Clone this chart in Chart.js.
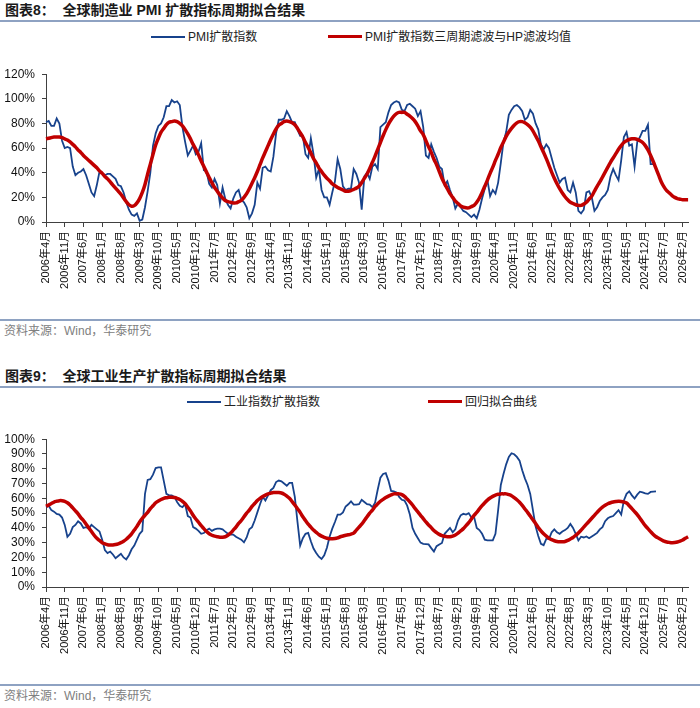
<!DOCTYPE html>
<html>
<head>
<meta charset="utf-8">
<script src="https://cdn.jsdelivr.net/npm/chart.js@4.4.0/dist/chart.umd.min.js"></script>
<style>
body{margin:0;width:700px;height:708px;position:relative;background:#fff;overflow:hidden;
  font-family:"Liberation Sans","Noto Sans CJK SC",sans-serif}
.title{position:absolute;left:5px;font-weight:bold;font-size:14px;line-height:16px;color:#1a1a1a;white-space:nowrap}
.rule{position:absolute;left:0;width:700px;height:2px;background:#8ea2c2}
.src{position:absolute;left:4px;font-size:12px;line-height:14px;color:#808080;white-space:nowrap}
.leg{position:absolute;font-size:12px;line-height:14px;color:#222;white-space:nowrap}
.leg i{display:inline-block;width:34px;vertical-align:middle;margin-right:3px;position:relative;top:-1px}
canvas{position:absolute;left:0}
</style>
</head>
<body>
<div class="title" style="top:2px">图表8：&nbsp;&nbsp;全球制造业 PMI 扩散指标周期拟合结果</div>
<div class="rule" style="top:20px"></div>
<div class="leg" style="left:151px;top:30px"><i style="height:2px;background:#17428c"></i>PMI扩散指数</div>
<div class="leg" style="left:328px;top:30px"><i style="height:3px;background:#c00000"></i>PMI扩散指数三周期滤波与HP滤波均值</div>
<canvas id="chart1" width="700" height="240" style="top:60px"></canvas>
<div class="rule" style="top:319px"></div>
<div class="src" style="top:324px">资料来源：Wind，华泰研究</div>

<div class="title" style="top:368px">图表9：&nbsp;&nbsp;全球工业生产扩散指标周期拟合结果</div>
<div class="rule" style="top:386px"></div>
<div class="leg" style="left:187px;top:395px"><i style="height:2px;background:#17428c"></i>工业指数扩散指数</div>
<div class="leg" style="left:428px;top:395px"><i style="height:3px;background:#c00000"></i>回归拟合曲线</div>
<canvas id="chart2" width="700" height="240" style="top:425px"></canvas>
<div class="rule" style="top:684px"></div>
<div class="src" style="top:689px">资料来源：Wind，华泰研究</div>

<script>
// months 2006-04 .. 2026-04
const months = [];
for (let y = 2006, m = 4; months.length < 241; m++) {
    if (m > 12) { m = 1; y++; }
    months.push(y + "年" + m + "月");
}

const pmiIndex = [
    81,82,78,78,84,80,66,60,61,60, 45,38,40,41,43,38,31,24,21,30,
    41,40,38,39,39,37,35,30,29,24, 16,10,6,5,7,1,2,12,25,40,
    62,72,78,80,85,94,94,99,97,98, 95,77,65,54,58,62,55,57,64,42,
    41,31,28,35,30,15,28,19,14,11, 19,24,26,18,16,12,3,7,14,32,
    27,44,45,42,41,53,72,83,83,84, 90,86,81,81,75,70,70,55,52,68,
    55,36,43,26,20,20,14,24,33,51, 43,29,26,27,27,43,39,32,10,37,
    40,35,45,47,43,77,79,81,89,95, 97,98,97,91,90,95,96,94,92,86,
    90,77,54,52,63,57,52,45,43,30, 33,26,20,11,15,12,9,8,6,4,
    6,3,10,19,27,34,21,26,23,32, 48,65,73,87,91,94,95,93,90,83,
    85,91,88,80,75,63,59,63,60,52, 44,38,32,35,36,26,24,32,24,9,
    7,10,24,25,20,9,12,17,20,22, 26,37,43,38,34,50,69,73,62,63,
    45,65,69,74,74,79,47,47
];

const pmiFit = [
    67.5,68,68.5,69,69,69,68.5,67.5,66.5,65, 63,61,58.5,56.5,54,52,50,48,46,44,
    41.5,39.5,37,35,32.5,30,27.5,25,22.5,19.5, 16.5,14,12.8,13.3,15.5,19,24,30.5,39,47,
    55,62.5,68,73,76,79,81,81.5,82,81.5, 80,78,75,71.5,67.5,63,59,54.5,49.5,45,
    40.5,36,32,28,25,22,19.5,17.5,16.5,16, 15.5,15.5,16.5,17.5,20,23,27,31.5,36,41,
    46.5,52,57,62,67,71.5,75.5,78.5,80,81.5, 82,81.5,80.5,79,76,72.5,69,64.5,60.5,56,
    51.5,48,44,41,38,35.5,33.5,31,29.5,28, 27,26,25,25,25.5,26.5,27.5,29,32,35.5,
    39,43.5,48.5,53.5,59,64.5,70,75,79.5,83, 86,88,89,89,89,87.5,86,84,81.5,78,
    74,71,66,61,56.5,51,46.5,41,35.5,31, 27,23,20,17,15,13,12,11.5,11.5,12.5,
    13.5,16,19.5,24,29,34,39.5,44.5,50,55, 60.5,65,69.5,73,76,78.5,80.5,81.5,81.5,80.5,
    79,77,74,70,66,61,56.5,51.5,46,40.5, 35.5,31,27,23.5,20.5,18,16,15,14,13.5,
    13.5,14.5,16,18.5,21,25,29,32.5,36.5,40.5, 44.5,48.5,52,55.5,59,62,64.5,66,67,67.5,
    67.5,67,66,64.5,62,58.5,54,49,43.5,38, 32.5,28.5,25.5,23.5,21.5,20,19,18.5,18,18,
    18
];

const industryIndex = [
    54,55,52,51,49.5,49,47,42,34,36, 40.5,42,44.5,43,40,40.5,39.5,42,40.5,39,
    37.5,32,25,23,24,22,19.5,21,22.5,20, 18.7,21.5,25.5,28,32,36,38,63,72.5,73,
    76,80.5,81,81,72,63,62,62,61,57.5, 55,54,56,48,47,40.5,39.5,38,36,36.5,
    38.5,39.5,38,39,39.5,39.5,39,37.5,36,35.5, 35.5,34,33,32,30.2,33.5,39,40.5,45,50.5,
    56,61,58.5,62,65.5,67,71,72,71.5,70, 68.5,70.5,70.5,61,44,28,33,36,36.6,31,
    26,23,20.5,19,21.5,26.5,34,39.5,44,49, 49,50.5,54.5,56,58,55.7,55.7,56,59,57.5,
    56,55.7,54,57,66,74,76.5,77,72,65, 64.7,64,61,59,58.5,55,49,40,36,33,
    30,29.2,29,28.8,26.3,24,27.6,28.8,29.8,36, 38,40,37,39,45,48.5,49.5,49,50,47,
    47.5,40,38.5,36,32,31.5,31.5,31.5,36,52, 69,76.5,83,88,90.5,89.8,88,85.5,79,73.5,
    69,63,52,41,34.5,29.2,28.3,32.5,32.5,37, 39,37,36,37.5,38.5,40,42.7,40,36,31.5,
    34,33.5,34.2,33,34.2,35.3,36.6,39,40.5,44.5, 46.5,47.5,48,50,52,49,58.5,63,64.7,62,
    59.8,62.5,64.5,64,63.3,63,64.3,64.5,64.7
];

const industryFit = [
    54.6,55.5,56.5,57.5,58,58.4,58.4,58,57,55.5, 53.5,51.5,49.5,47,45,42.5,40,37.5,35,33,
    31.5,30,29.2,28.6,28.4,28.4,28.7,29.2,30,31, 32.3,34,36,38.5,41,44,46.5,48.5,50.5,53,
    55,57,58.2,59.2,60,60.4,60.7,60.7,60.5,60, 59.2,58,56.3,54,51.5,48.5,46,43.8,41.5,39.5,
    37.5,36,35,34.4,34,33.7,33.7,34,35,36.5, 38.5,40.5,43,45,47.5,50,52,54.5,56.5,58.5,
    60,61.2,62.2,63,63.5,63.9,64,63.9,63.6,62.8, 61.5,60,57.8,55.5,53,50.5,47.5,45,42.5,40.5,
    38.5,37,35.5,34.4,33.6,33,32.7,32.7,32.8,33.2, 34,34.5,35,35.3,35.8,36.5,38.5,40.5,42.5,45,
    47.5,50,52,54.5,56.3,58,59.3,60.5,61.5,62.3, 63,63,63,62.5,61.3,59.5,57.6,55.5,53,50.8,
    48.5,46.3,44,42,40.2,38.2,36.8,35.6,34.8,34.3, 34,34,34.4,35.2,36.4,38,39.5,41.5,43.5,46,
    48.5,50.5,52.8,55,57,58.8,60.2,61.3,62.2,62.7, 63,63,63,62.5,61.8,60.5,59,57.3,55.2,52.8,
    50.5,48,45.5,43,40.3,38,36,34.4,33,32, 31.3,30.8,30.6,30.6,30.8,31.5,32.5,33.5,35,36.6,
    38.5,40.5,42.5,44.5,46.5,48.5,50.5,52.4,54,55.3, 56.3,57,57.5,57.8,58,57.9,57.5,56.8,55,53,
    51,49,46.5,44,41.5,39.5,37.5,35.6,34,33, 32,31,30.5,30.2,30,30.1,30.4,31,31.8,33,
    34
];

Chart.defaults.font.family = '"Liberation Sans", "Noto Sans CJK SC", sans-serif';
Chart.defaults.color = "#111";

function makeChart(id, blue, red, yMax, yStep) {
    return new Chart(document.getElementById(id), {
        type: "line",
        data: {
            labels: months,
            datasets: [{
                data: red,
                borderColor: "#c00000",
                borderWidth: 3.5,
                pointRadius: 0,
                tension: 0.3,
                order: 0
            }, {
                data: blue,
                borderColor: "#17428c",
                borderWidth: 1.8,
                pointRadius: 0,
                tension: 0,
                order: 1
            }]
        },
        options: {
            responsive: false,
            animation: false,
            layout: { padding: { top: 13, right: 8, left: 0, bottom: 0 } },
            plugins: { legend: { display: false }, tooltip: { enabled: false } },
            scales: {
                x: {
                    offset: false,
                    grid: { drawOnChartArea: false, tickLength: 5, color: "#404040" },
                    border: { color: "#404040", width: 1 },
                    ticks: {
                        autoSkip: false, minRotation: 90, maxRotation: 90, padding: 4,
                        font: { size: 11 },
                        callback: (v, i) => i % 7 === 0 ? months[i] : null
                    },
                    afterFit: s => { s.height = 78; }
                },
                y: {
                    min: 0, max: yMax,
                    grid: { drawOnChartArea: false, tickLength: 4, color: "#404040" },
                    border: { color: "#404040", width: 1 },
                    ticks: { autoSkip: false, stepSize: yStep, padding: 7, font: { size: 12 }, callback: v => v + "%" },
                    afterFit: s => { s.width = 46; }
                }
            }
        }
    });
}

makeChart("chart1", pmiIndex, pmiFit, 120, 20);
makeChart("chart2", industryIndex, industryFit, 100, 10);
</script>
</body>
</html>
